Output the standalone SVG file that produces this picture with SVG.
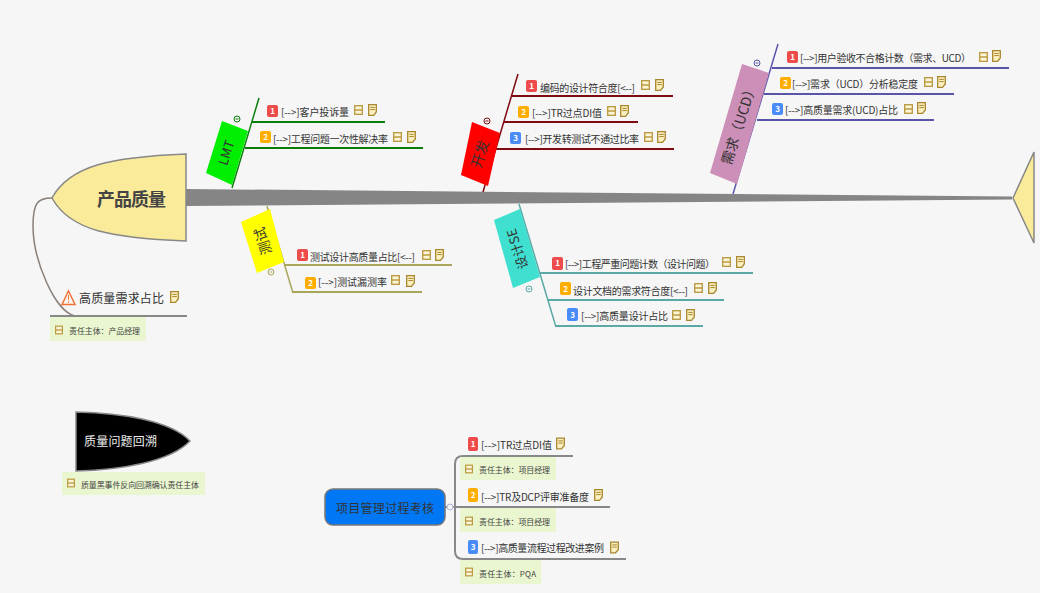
<svg xmlns="http://www.w3.org/2000/svg" width="1040" height="593" viewBox="0 0 1040 593">
<style>
text{font-family:"Noto Sans CJK SC","Noto Sans",sans-serif;fill:#333}
.t{font-size:10px}
.n{font-size:8px;fill:#444}
.d{font-size:8px;font-weight:700;fill:#fff;text-anchor:middle}
.h{fill:#f9eb99;stroke:#888;stroke-width:1.5}
.l{fill:none;stroke-width:2}
.s{fill:none;stroke-width:1.5}
.c{fill:none;stroke-width:1}
.note{fill:#eaf6cf}
.r{fill:#ee4b4b}.o{fill:#ffae00}.b{fill:#4a8cf7}
.g{stroke:#0a7d0a}.y{stroke:#a9a55a}.m{stroke:#7f0a10}.e{stroke:#5aa9a5}.u{stroke:#5a55a9}.k{stroke:#888}
</style>
<defs>
<symbol id="tb" viewBox="0 0 9 10" overflow="visible"><rect x=".7" y=".7" width="7.6" height="8.6" fill="#fbf5d8" stroke="#b8963a" stroke-width="1.3"/><path d="M1 5H8" stroke="#b8963a" stroke-width="1.4"/></symbol>
<symbol id="dc" viewBox="0 0 9 12" overflow="visible"><path d="M.7.7H8.3V8L5.5 11.3H.7Z" fill="#fbf0c0" stroke="#a8862c" stroke-width="1.3"/><path d="M2.3 3.4H6.8M2.3 5.6H6.8" stroke="#a8862c"/></symbol>
</defs>
<rect width="1040" height="593" fill="#f6f6f6"/>
<g id="connectors">
<polygon points="186,189 1012,196.5 1012,199.5 186,206" fill="#858585"/>
<path class="s g" d="M232,188 259,98"/><path class="l g" d="M252,122H385M245,148H423"/>
<path class="s y" d="M267,206 293,293"/><path class="l y" d="M285,265H452M293,292H422"/>
<path class="s m" d="M483,192 518,74"/><path class="l m" d="M512,96H673M504,122H638M496,149H674"/>
<path class="s e" d="M519,204 556,327"/><path class="l e" d="M540,273H753M548,300H724M556,326H703"/>
<path class="s u" d="M733,194 778,44"/><path class="l u" d="M772,68H1009M764,94H954M757,120H934"/>
<path d="M52,198C38,198 33,202 33,226C33,260 55,312 75,316" fill="none" stroke="#8a7f78" stroke-width="1.5"/>
<path class="l k" d="M50,316H187"/>
<path class="l k" d="M573,456H463Q455,456 455,464V551Q455,559 463,559H626M445,507H610"/>
</g>
<g id="head"><path class="h" d="M186,154V241C112,238 70,231 52,198C70,165 112,157 186,154Z"/><text x="97" y="206" font-size="18" font-weight="700" textLength="69" style="fill:#444">产品质量</text></g>
<g id="tail"><path class="h" d="M1034,152V243L1013,198Z"/></g>

<g id="lmt"><polygon points="222,121 248,131 232,185 206,173" fill="#00ee00"/><text transform="translate(227,153) rotate(-72)" font-size="13" text-anchor="middle" y="4">LMT</text>
<circle class="c g" cx="237" cy="119" r="3"/><path class="g" d="M235.500,119H238.500"/></g>
<g id="lmt-1"><rect class="r" x="267" y="105" width="11" height="12" rx="2"/><text class="d" x="272.500" y="114">1</text><text class="t" x="281" y="116" textLength="68">[--&gt;]客户投诉量</text><use href="#tb" x="354" y="105" width="9" height="10"/><use href="#dc" x="368" y="104" width="9" height="12"/></g>
<g id="lmt-2"><rect class="o" x="260" y="131" width="11" height="12" rx="2"/><text class="d" x="265.500" y="140">2</text><text class="t" x="273" y="143" textLength="115">[--&gt;]工程问题一次性解决率</text><use href="#tb" x="393" y="132" width="9" height="10"/><use href="#dc" x="407" y="131" width="9" height="12"/></g>

<g id="test"><polygon points="241,222 270,209 284,262 257,273" fill="#ffff00"/><text transform="translate(263,241) rotate(-108)" font-size="14" text-anchor="middle" y="5">测试</text>
<circle class="c y" cx="271" cy="272" r="3"/><path class="y" d="M269.500,272H272.500"/></g>
<g id="test-1"><rect class="r" x="297" y="249" width="11" height="12" rx="2"/><text class="d" x="302.500" y="258">1</text><text class="t" x="310" y="261" textLength="105">测试设计高质量占比[&lt;--]</text><use href="#tb" x="422" y="250" width="9" height="10"/><use href="#dc" x="435" y="249" width="9" height="12"/></g>
<g id="test-2"><rect class="o" x="305" y="277" width="11" height="12" rx="2"/><text class="d" x="310.500" y="286">2</text><text class="t" x="318" y="286" textLength="69">[--&gt;]测试漏测率</text><use href="#tb" x="391" y="275" width="9" height="10"/><use href="#dc" x="406" y="275" width="9" height="12"/></g>

<g id="dev"><polygon points="472,122 500,133 488,186 461,175" fill="#ff0000"/><text transform="translate(480,154) rotate(-72)" font-size="14" text-anchor="middle" y="5">开发</text>
<circle class="c m" cx="487" cy="121" r="3"/><path class="m" d="M485.500,121H488.500"/></g>
<g id="dev-1"><rect class="r" x="526" y="80" width="11" height="12" rx="2"/><text class="d" x="531.500" y="89">1</text><text class="t" x="540" y="92" textLength="95">编码的设计符合度[&lt;--]</text><use href="#tb" x="641" y="80" width="9" height="10"/><use href="#dc" x="655" y="79" width="9" height="12"/></g>
<g id="dev-2"><rect class="o" x="518" y="106" width="11" height="12" rx="2"/><text class="d" x="523.500" y="115">2</text><text class="t" x="532" y="117" textLength="70">[--&gt;]TR过点DI值</text><use href="#tb" x="607" y="106" width="9" height="10"/><use href="#dc" x="620" y="105" width="9" height="12"/></g>
<g id="dev-3"><rect class="b" x="510" y="132" width="11" height="12" rx="2"/><text class="d" x="515.500" y="141">3</text><text class="t" x="525" y="143" textLength="114">[--&gt;]开发转测试不通过比率</text><use href="#tb" x="644" y="132" width="9" height="10"/><use href="#dc" x="657" y="131" width="9" height="12"/></g>

<g id="se"><polygon points="494,220 520,209 540,277 513,288" fill="#3fe0d0"/><text transform="translate(517,249) rotate(-108)" font-size="13" text-anchor="middle" y="5">设计SE</text>
<circle class="c e" cx="529" cy="289" r="3"/><path class="e" d="M527.500,289H530.500"/></g>
<g id="se-1"><rect class="r" x="552" y="257" width="11" height="13" rx="2"/><text class="d" x="557.500" y="266">1</text><text class="t" x="565" y="268" textLength="150">[--&gt;]工程严重问题计数（设计问题）</text><use href="#tb" x="722" y="257" width="9" height="10"/><use href="#dc" x="736" y="256" width="9" height="12"/></g>
<g id="se-2"><rect class="o" x="560" y="282" width="11" height="13" rx="2"/><text class="d" x="565.500" y="292">2</text><text class="t" x="573" y="295" textLength="115">设计文档的需求符合度[&lt;--]</text><use href="#tb" x="694" y="283" width="9" height="10"/><use href="#dc" x="708" y="282" width="9" height="12"/></g>
<g id="se-3"><rect class="b" x="567" y="308" width="11" height="13" rx="2"/><text class="d" x="572.500" y="318">3</text><text class="t" x="581" y="320" textLength="87">[--&gt;]高质量设计占比</text><use href="#tb" x="672" y="310" width="9" height="10"/><use href="#dc" x="686" y="309" width="9" height="12"/></g>

<g id="ucd"><polygon points="742,64 769,73 737,184 710,173" fill="#cc8fb8"/><text transform="translate(739,124) rotate(-72)" font-size="14" text-anchor="middle" y="5">需求（UCD）</text>
<circle class="c u" cx="757" cy="63" r="3"/><path class="u" d="M755.500,63H758.500"/></g>
<g id="ucd-1"><rect class="r" x="787" y="51" width="11" height="12" rx="2"/><text class="d" x="792.500" y="60">1</text><text class="t" x="800" y="62" textLength="171">[--&gt;]用户验收不合格计数（需求、UCD）</text><use href="#tb" x="979" y="52" width="9" height="10"/><use href="#dc" x="992" y="50" width="9" height="12"/></g>
<g id="ucd-2"><rect class="o" x="780" y="77" width="11" height="12" rx="2"/><text class="d" x="785.500" y="86">2</text><text class="t" x="792" y="88" textLength="126">[--&gt;]需求（UCD）分析稳定度</text><use href="#tb" x="924" y="77" width="9" height="10"/><use href="#dc" x="937" y="76" width="9" height="12"/></g>
<g id="ucd-3"><rect class="b" x="772" y="103" width="11" height="12" rx="2"/><text class="d" x="777.500" y="112">3</text><text class="t" x="785" y="114" textLength="113">[--&gt;]高质量需求(UCD)占比</text><use href="#tb" x="904" y="104" width="9" height="10"/><use href="#dc" x="917" y="102" width="9" height="12"/></g>

<g id="alert"><path d="M68.500,291 75,304.500H62Z" fill="#fdf6ee" stroke="#f0703a" stroke-width="1.500"/><path d="M68.500,295V300M68.500,301.500V303" stroke="#f0703a"/><text x="79" y="303" font-size="12" textLength="85">高质量需求占比</text><use href="#dc" x="170" y="291" width="9" height="12"/>
<rect class="note" x="50" y="317" width="96" height="24"/><use href="#tb" x="55" y="325" width="8" height="10"/><text class="n" x="69" y="334" textLength="71">责任主体：产品经理</text></g>

<g id="black"><path d="M76,412C120,413 170,420 190,441C170,462 120,470 76,471Z" fill="#000" stroke="#888" stroke-width="1.500"/><text x="84" y="446" font-size="12" textLength="73" style="fill:#eee">质量问题回溯</text>
<rect class="note" x="62" y="472" width="143" height="23"/><use href="#tb" x="67" y="478" width="8" height="10"/><text class="n" x="81" y="488" textLength="118">质量黑事件反向回溯确认责任主体</text></g>

<g id="proc"><rect x="325" y="489" width="120" height="36" rx="8" fill="#0078f5" stroke="#777" stroke-width="1.500"/><text x="336" y="513" font-size="12" textLength="98">项目管理过程考核</text>
<circle cx="450" cy="507" r="3" fill="#f6f6f6" stroke="#a8b8d8"/></g>
<g id="proc-1"><rect class="r" x="468" y="437" width="10" height="14" rx="2"/><text class="d" x="473" y="447">1</text><text class="t" x="481" y="449" textLength="71">[--&gt;]TR过点DI值</text><use href="#dc" x="556" y="437" width="9" height="13"/>
<rect class="note" x="460" y="457" width="96" height="23"/><use href="#tb" x="465" y="464" width="8" height="10"/><text class="n" x="479" y="473" textLength="71">责任主体：项目经理</text></g>
<g id="proc-2"><rect class="o" x="468" y="488" width="10" height="14" rx="2"/><text class="d" x="473" y="498">2</text><text class="t" x="481" y="501" textLength="108">[--&gt;]TR及DCP评审准备度</text><use href="#dc" x="594" y="489" width="9" height="12"/>
<rect class="note" x="460" y="508" width="96" height="24"/><use href="#tb" x="465" y="516" width="8" height="10"/><text class="n" x="479" y="525" textLength="71">责任主体：项目经理</text></g>
<g id="proc-3"><rect class="b" x="468" y="540" width="10" height="14" rx="2"/><text class="d" x="473" y="550">3</text><text class="t" x="481" y="552" textLength="123">[--&gt;]高质量流程过程改进案例</text><use href="#dc" x="610" y="541" width="9" height="13"/>
<rect class="note" x="460" y="560" width="81" height="24"/><use href="#tb" x="465" y="567" width="8" height="10"/><text class="n" x="479" y="577" textLength="57">责任主体：PQA</text></g>
</svg>
